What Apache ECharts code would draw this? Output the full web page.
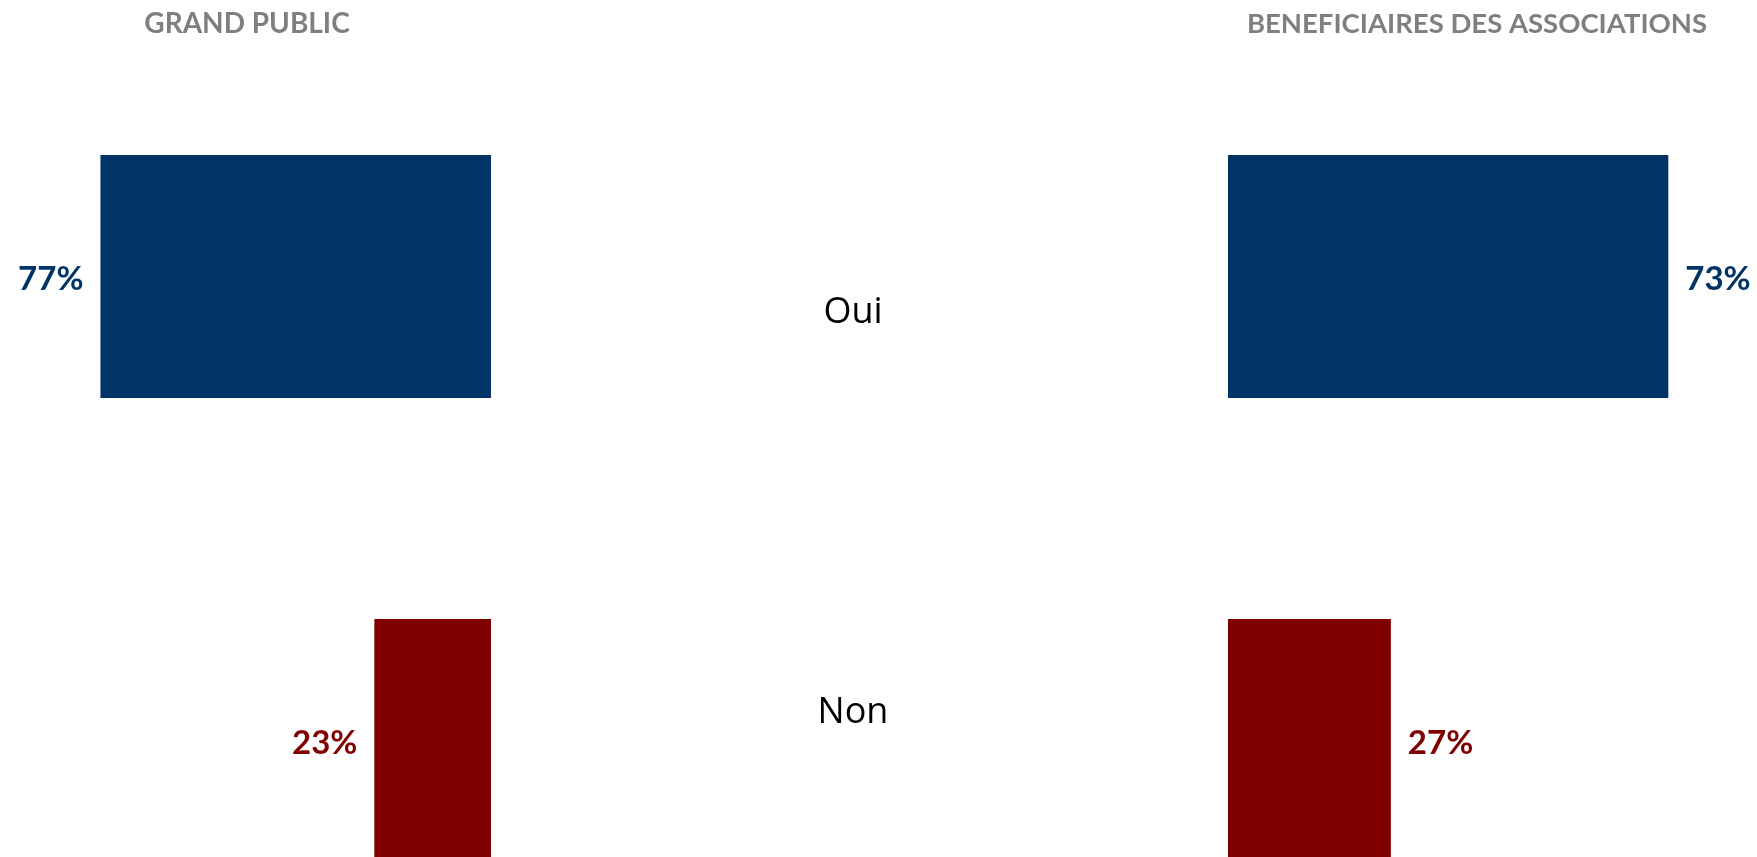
<!DOCTYPE html>
<html>
<head>
<meta charset="utf-8">
<script src="https://cdn.jsdelivr.net/npm/echarts@6/dist/echarts.min.js"></script>
<style>
html,body{margin:0;padding:0;background:#fff;}
#chart{width:1757px;height:857px;}
</style>
</head>
<body>
<div id="chart"></div>
<script>
// ---- data ----
var categories = ['Oui', 'Non'];
var panelTitles = ['GRAND PUBLIC', 'BENEFICIAIRES DES ASSOCIATIONS'];
var grandPublic = [77, 23];
var beneficiaires = [73, 27];
var barColors = ['#003366', '#800000'];

var chart = echarts.init(document.getElementById('chart'));
var labelFont = 'Lato, "Noto Sans", sans-serif';
var labelOffsetY = [3, 3];

function items(values) {
  return values.map(function (v, i) {
    return {
      value: v,
      itemStyle: { color: barColors[i] },
      label: { color: barColors[i], offset: [0, labelOffsetY[i]] }
    };
  });
}

function catAxis(gridIndex) {
  return {
    type: 'category', gridIndex: gridIndex, data: categories, inverse: true,
    axisLine: { show: false }, axisTick: { show: false },
    axisLabel: { show: false }, splitLine: { show: false }
  };
}

var option = {
  backgroundColor: '#ffffff',
  animation: false,
  title: [
    { text: panelTitles[0], left: 242, top: 5, textAlign: 'center',
      textStyle: { color: '#7f7f7f', fontFamily: labelFont, fontWeight: 'bold', fontSize: 28 } },
    { text: panelTitles[1], left: 1472, top: 5, textAlign: 'center',
      textStyle: { color: '#7f7f7f', fontFamily: labelFont, fontWeight: 'bold', fontSize: 27.5 } }
  ],
  grid: [
    { left: 0, width: 491, top: 44.5, height: 928, outerBoundsMode: 'none', containLabel: false },
    { left: 1228, width: 529, top: 44.5, height: 928, outerBoundsMode: 'none', containLabel: false },
    { left: 853, width: 1, top: 113, height: 800, outerBoundsMode: 'none', containLabel: false }
  ],
  xAxis: [
    { type: 'value', gridIndex: 0, min: 0, max: 96.8, inverse: true, show: false },
    { type: 'value', gridIndex: 1, min: 0, max: 87.7, show: false },
    { type: 'value', gridIndex: 2, min: 0, max: 1, show: false }
  ],
  yAxis: [
    catAxis(0),
    catAxis(1),
    {
      type: 'category', gridIndex: 2, data: categories, inverse: true,
      axisLine: { show: false }, axisTick: { show: false }, splitLine: { show: false },
      axisLabel: { show: true, margin: 0, align: 'center', color: '#000000',
        fontFamily: '"Open Sans", sans-serif', fontSize: 36 }
    }
  ],
  series: [
    {
      type: 'bar', xAxisIndex: 0, yAxisIndex: 0, barWidth: 243,
      data: items(grandPublic),
      label: { show: true, position: 'left', distance: 17, fontFamily: labelFont,
        fontWeight: 'bold', fontSize: 33, formatter: '{c}%' }
    },
    {
      type: 'bar', xAxisIndex: 1, yAxisIndex: 1, barWidth: 243,
      data: items(beneficiaires),
      label: { show: true, position: 'right', distance: 17, fontFamily: labelFont,
        fontWeight: 'bold', fontSize: 33, formatter: '{c}%' }
    },
    {
      type: 'bar', xAxisIndex: 2, yAxisIndex: 2, data: [], silent: true
    }
  ]
};
chart.setOption(option);
</script>
</body>
</html>
